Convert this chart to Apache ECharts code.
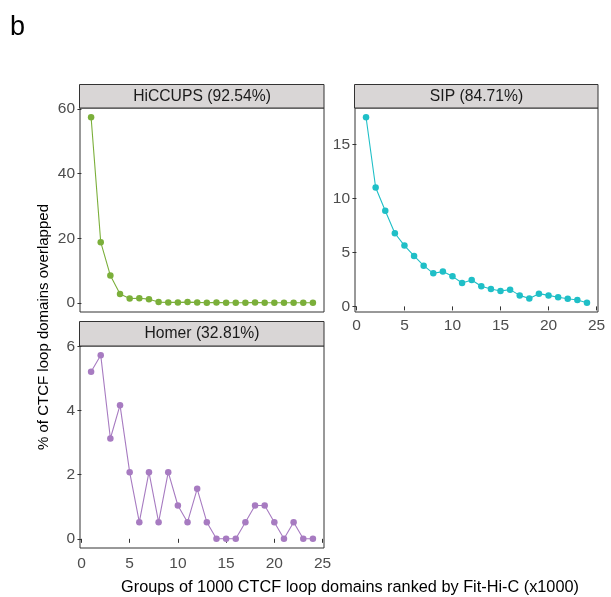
<!DOCTYPE html>
<html>
<head>
<meta charset="utf-8">
<script src="https://cdn.jsdelivr.net/npm/echarts@6/dist/echarts.min.js"></script>
<style>html,body{margin:0;padding:0;background:#fff}#c{width:611px;height:597px}</style>
</head>
<body>
<div id="c"></div>
<script>
const groups = [1,2,3,4,5,6,7,8,9,10,11,12,13,14,15,16,17,18,19,20,21,22,23,24];
const hiccups = [57.4,18.8,8.5,2.8,1.4,1.5,1.2,0.3,0.2,0.2,0.3,0.2,0.1,0.2,0.1,0.1,0.1,0.2,0.1,0.1,0.1,0.1,0.1,0.1];
const sip = [17.5,11.0,8.85,6.77,5.63,4.67,3.77,3.06,3.22,2.78,2.17,2.44,1.86,1.61,1.42,1.55,1.02,0.74,1.18,1.02,0.84,0.71,0.59,0.34];
const homer = [5.21,5.73,3.13,4.17,2.08,0.52,2.08,0.52,2.08,1.04,0.52,1.56,0.52,0,0,0,0.52,1.04,1.04,0.52,0,0.52,0,0];
const xTicks = [0,5,10,15,20,25];
const hiccupsTicks = [0,20,40,60];
const sipTicks = [0,5,10,15];
const homerTicks = [0,2,4,6];
const titles = ['HiCCUPS (92.54%)','SIP (84.71%)','Homer (32.81%)'];
const colors = ['#7BAF3A','#1FBFC7','#A77BC1'];

function expand(arr){const mn=Math.min(...arr),mx=Math.max(...arr),r=mx-mn;return [mn-0.05*r,mx+0.05*r];}
const xr = expand(groups);
const font = 'Liberation Sans, Arial, Helvetica, sans-serif';
const grids = [
  {left:80, top:108, width:244, height:204},
  {left:355, top:108, width:243, height:204},
  {left:80, top:346, width:244, height:202}
];
const data = [hiccups, sip, homer];
const yt = [hiccupsTicks, sipTicks, homerTicks];
const showX = [false, true, true];
const xMargin = [6, 6, 8];

const option = {
  animation:false,
  backgroundColor:'#fff',
  grid: grids.map(g=>Object.assign({show:true, borderColor:'#333', borderWidth:1, backgroundColor:'#fff'}, g)),
  xAxis: grids.map((g,i)=>({
    type:'value', gridIndex:i, min:xr[0], max:xr[1],
    axisLine:{show:false}, splitLine:{show:false},
    axisTick:{show:showX[i], length:4, lineStyle:{color:'#333'}, customValues:xTicks},
    axisLabel:{show:showX[i], customValues:xTicks, color:'#4D4D4D', fontSize:15.5, fontFamily:font, margin:xMargin[i]}
  })),
  yAxis: grids.map((g,i)=>{const r=expand(data[i]);return {
    type:'value', gridIndex:i, min:r[0], max:r[1],
    axisLine:{show:false}, splitLine:{show:false},
    axisTick:{show:true, length:4, lineStyle:{color:'#333'}, customValues:yt[i]},
    axisLabel:{customValues:yt[i], color:'#4D4D4D', fontSize:15.5, fontFamily:font, margin:5, padding:[3,0,0,0]}
  };}),
  series: data.map((d,i)=>({
    type:'line', xAxisIndex:i, yAxisIndex:i,
    data: groups.map((x,j)=>[x,d[j]]),
    symbol:'circle', symbolSize:6.5,
    lineStyle:{color:colors[i], width:1.1},
    itemStyle:{color:colors[i]}
  })),
  graphic: [
    {type:'rect', shape:{x:79.5,y:84.5,width:244.5,height:23.5}, style:{fill:'#D9D6D6', stroke:'#333', lineWidth:1}},
    {type:'rect', shape:{x:354.5,y:84.5,width:243.5,height:23.5}, style:{fill:'#D9D6D6', stroke:'#333', lineWidth:1}},
    {type:'rect', shape:{x:79.5,y:321.5,width:244.5,height:24.5}, style:{fill:'#D9D6D6', stroke:'#333', lineWidth:1}},
    {type:'text', x:202, y:97, style:{text:titles[0], fill:'#1A1A1A', font:'15.7px '+font, textAlign:'center', textVerticalAlign:'middle'}},
    {type:'text', x:476.5, y:97, style:{text:titles[1], fill:'#1A1A1A', font:'15.7px '+font, textAlign:'center', textVerticalAlign:'middle'}},
    {type:'text', x:202, y:334, style:{text:titles[2], fill:'#1A1A1A', font:'15.7px '+font, textAlign:'center', textVerticalAlign:'middle'}},
    {type:'text', x:44, y:327, rotation:Math.PI/2, style:{text:'% of CTCF loop domains overlapped', fill:'#000', font:'15px '+font, textAlign:'center', textVerticalAlign:'middle'}},
    {type:'text', x:350, y:588, style:{text:'Groups of 1000 CTCF loop domains ranked by Fit-Hi-C (x1000)', fill:'#000', font:'16.3px '+font, textAlign:'center', textVerticalAlign:'middle'}},
    {type:'text', x:10, y:28, style:{text:'b', fill:'#000', font:'27px '+font, textAlign:'left', textVerticalAlign:'middle'}}
  ]
};
const chart = echarts.init(document.getElementById('c'), null, {renderer:'canvas'});
chart.setOption(option);
</script>
</body>
</html>
